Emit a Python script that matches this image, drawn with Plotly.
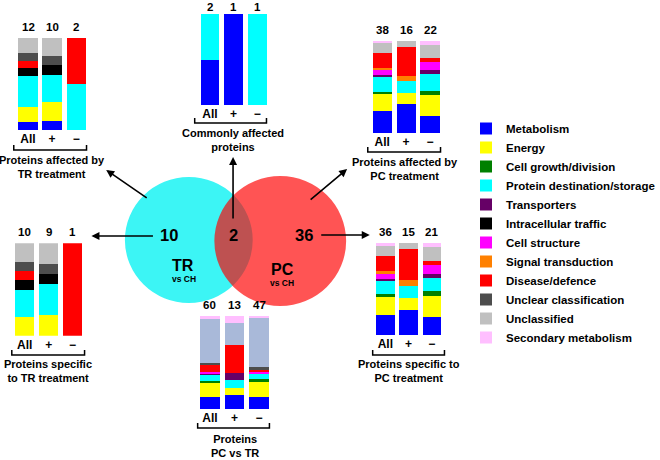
import plotly.graph_objects as go

W, H = 660, 460

# ---------------- data ----------------
categories = [
    "Metabolism", "Energy", "Cell growth/division", "Protein destination/storage",
    "Transporters", "Intracellular traffic", "Cell structure", "Signal transduction",
    "Disease/defence", "Unclear classification", "Unclassified", "Secondary metabolism",
]
bar_labels = ["All", "+", "−"]

# counts per category (same order as `categories`)
tr_affected_all = [1, 2, 0, 4, 0, 1, 0, 0, 1, 1, 2, 0]
tr_affected_up = [1, 2, 0, 3, 0, 1, 0, 0, 0, 1, 2, 0]
tr_affected_down = [0, 0, 0, 1, 0, 0, 0, 0, 1, 0, 0, 0]

common_all = [1, 0, 0, 1, 0, 0, 0, 0, 0, 0, 0, 0]
common_up = [1, 0, 0, 0, 0, 0, 0, 0, 0, 0, 0, 0]
common_down = [0, 0, 0, 1, 0, 0, 0, 0, 0, 0, 0, 0]

pc_affected_all = [9, 7, 1, 6, 1, 0, 2, 1, 6, 0, 4, 1]
pc_affected_up = [5, 2, 0, 2, 0, 0, 0, 1, 5, 0, 1, 0]
pc_affected_down = [4, 5, 1, 4, 1, 0, 2, 0, 1, 0, 3, 1]

tr_specific_all = [0, 2, 0, 3, 0, 1, 0, 0, 1, 1, 2, 0]
tr_specific_up = [0, 2, 0, 3, 0, 1, 0, 0, 0, 1, 2, 0]
tr_specific_down = [0, 0, 0, 0, 0, 0, 0, 0, 1, 0, 0, 0]

pc_specific_all = [8, 7, 1, 5, 1, 0, 2, 1, 6, 0, 4, 1]
pc_specific_up = [4, 2, 0, 2, 0, 0, 0, 1, 5, 0, 1, 0]
pc_specific_down = [4, 5, 1, 3, 1, 0, 2, 0, 1, 0, 3, 1]

pc_vs_tr_all = [8, 9, 1, 4, 1, 0, 1, 0, 5, 1, 28, 2]
pc_vs_tr_up = [2, 1, 0, 1, 1, 0, 0, 0, 4, 0, 3, 1]
pc_vs_tr_down = [6, 8, 1, 3, 0, 0, 1, 0, 1, 1, 25, 1]

venn_tr_only = 10
venn_common = 2
venn_pc_only = 36

# ---------------- styles ----------------
category_colors = [
    "#0000FF", "#FFFF00", "#008000", "#00FFFF", "#660066", "#000000",
    "#FF00FF", "#FF8000", "#FF0000", "#4D4D4D", "#C0C0C0", "#FFBFFF",
]
FONT = "Liberation Sans, Arial, Helvetica, sans-serif"


def px(x):
    return x / W


def py(y):
    return 1 - y / H


panels = [
    dict(bars=[tr_affected_all, tr_affected_up, tr_affected_down],
         title="Proteins affected by<br>TR treatment",
         box=(16.25, 89.75, 37.7, 130), bracket=(14, 88, 150), title_xy=(53, 167.5)),
    dict(bars=[common_all, common_up, common_down],
         title="Commonly affected<br>proteins",
         box=(201.5, 273.5, 14, 105), bracket=(198, 271, 123), title_xy=(236.5, 140),
         num_shift=-1),
    dict(bars=[pc_affected_all, pc_affected_up, pc_affected_down],
         title="Proteins affected by<br>PC treatment",
         box=(376.5, 449.5, 41, 133), bracket=(374, 448, 152), title_xy=(412, 169.5)),
    dict(bars=[tr_specific_all, tr_specific_up, tr_specific_down],
         title="Proteins specific<br>to TR treatment",
         box=(13, 86, 243.3, 335.7), bracket=(12, 86, 355), title_xy=(49, 370.5)),
    dict(bars=[pc_specific_all, pc_specific_up, pc_specific_down],
         title="Proteins specific to<br>PC treatment",
         box=(380, 451, 243, 335), bracket=(379, 452, 355), title_xy=(416, 371)),
    dict(bars=[pc_vs_tr_all, pc_vs_tr_up, pc_vs_tr_down],
         title="Proteins<br>PC vs TR",
         box=(201, 276, 316, 409), bracket=(201, 274, 428), title_xy=(238.5, 445.5),
         color_override={"Unclassified": "#A9B9D9"}),
]

fig = go.Figure()
annotations = []
shapes = []
layout_axes = {}

for k, p in enumerate(panels, start=1):
    xa = "x" if k == 1 else f"x{k}"
    ya = "y" if k == 1 else f"y{k}"
    xkey = "xaxis" if k == 1 else f"xaxis{k}"
    ykey = "yaxis" if k == 1 else f"yaxis{k}"
    override = p.get("color_override", {})
    for ci, cat in enumerate(categories):
        vals = [bar[ci] for bar in p["bars"]]
        fig.add_trace(go.Bar(
            x=[0, 1, 2], y=vals, name=cat, legendgroup=cat,
            showlegend=(k == 1),
            marker=dict(color=override.get(cat, category_colors[ci]), line=dict(width=0)),
            xaxis=xa, yaxis=ya, hoverinfo="name+y",
        ))
    x0, x1, y0, y1 = p["box"]
    layout_axes[xkey] = dict(
        domain=[px(x0), px(x1)], anchor=ya, range=[-0.5, 2.5],
        tickvals=[0, 1, 2], ticktext=bar_labels, showgrid=False, zeroline=False,
        showline=False, ticks="", tickfont=dict(size=12), fixedrange=True,
    )
    layout_axes[ykey] = dict(
        domain=[py(y1), py(y0)], anchor=xa, range=[0, 100], visible=False, fixedrange=True,
    )
    # totals on top
    for bi, bar in enumerate(p["bars"]):
        annotations.append(dict(
            x=bi, y=100, xref=xa, yref=ya, text=str(sum(bar)), showarrow=False,
            xanchor="center", yanchor="bottom", yshift=p.get("num_shift", 3),
            font=dict(size=11.5),
        ))
    # bracket
    bx0, bx1, by = p["bracket"]
    shapes.append(dict(
        type="path", xref="paper", yref="paper",
        path=f"M{px(bx0)},{py(by - 5)} L{px(bx0)},{py(by)} L{px(bx1)},{py(by)} L{px(bx1)},{py(by - 5)}",
        line=dict(color="black", width=1.5),
    ))
    # title
    tx, ty = p["title_xy"]
    annotations.append(dict(
        x=px(tx), y=py(ty), xref="paper", yref="paper", text=p["title"],
        showarrow=False, font=dict(size=11), align="center",
        xanchor="center", yanchor="middle",
    ))

# Venn circles
shapes.insert(0, dict(type="circle", xref="paper", yref="paper", layer="below",
                      x0=px(192 - 65), x1=px(192 + 65), y0=py(240 + 63), y1=py(240 - 63),
                      fillcolor="rgb(60,245,245)", line=dict(width=0)))
shapes.insert(1, dict(type="circle", xref="paper", yref="paper", layer="below",
                      x0=px(285 - 67), x1=px(285 + 67), y0=py(241 + 65), y1=py(241 - 65),
                      fillcolor="rgba(255,0,0,0.67)", line=dict(width=0)))

# Venn texts
venn_texts = [
    (str(venn_tr_only), 172, 235, 16.5),
    (str(venn_common), 237, 235, 16.5),
    (str(venn_pc_only), 309, 235, 16.5),
    ("TR", 186, 265, 16),
    ("vs CH", 187, 279, 8.5),
    ("PC", 287, 269, 16),
    ("vs CH", 287, 283, 8.5),
]
for t, x, y, s in venn_texts:
    annotations.append(dict(x=px(x), y=py(y), xref="paper", yref="paper", text=t,
                            showarrow=False, font=dict(size=s),
                            xanchor="center", yanchor="middle"))

# arrows (tip, tail)
arrows = [
    ((108, 170), (150, 199)),
    ((237, 157), (237, 220)),
    ((353, 169), (315, 201)),
    ((93, 236), (156, 236)),
    ((376, 235), (326, 235)),
]
for (tx, ty), (sx, sy) in arrows:
    annotations.append(dict(
        x=px(tx), y=py(ty), xref="paper", yref="paper", text="", showarrow=True,
        ax=sx - tx, ay=sy - ty, arrowhead=2, arrowsize=1, arrowwidth=1.6,
        arrowcolor="black", standoff=0,
    ))

fig.update_layout(
    width=W, height=H, autosize=False,
    margin=dict(l=0, r=0, t=0, b=0),
    paper_bgcolor="white", plot_bgcolor="white",
    barmode="stack", barnorm="percent", bargap=0.2,
    font=dict(family=FONT, color="black", weight="bold"),
    showlegend=True,
    legend=dict(x=px(474), y=py(114), xanchor="left", yanchor="top",
                font=dict(size=11.5), traceorder="normal", tracegroupgap=0,
                bgcolor="rgba(0,0,0,0)", itemwidth=30),
    annotations=annotations, shapes=shapes,
    **layout_axes,
)

fig.write_html(
    "out.html",
    config={"displayModeBar": False},
    post_script="document.body.style.margin='0';",
)
